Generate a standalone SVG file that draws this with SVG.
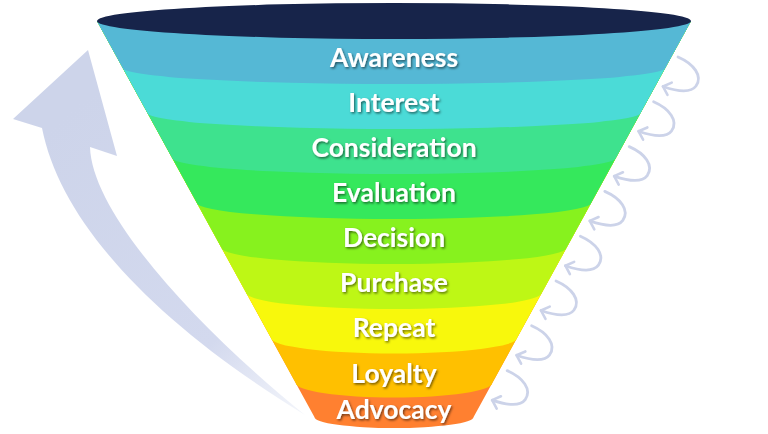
<svg xmlns="http://www.w3.org/2000/svg" width="768" height="434" viewBox="0 0 768 434">
  <defs>
    <linearGradient id="bigArrowGrad" gradientUnits="userSpaceOnUse" x1="60" y1="120" x2="305" y2="415">
      <stop offset="0" stop-color="#CDD4EA"/>
      <stop offset="0.7" stop-color="#D3D9EE"/>
      <stop offset="1" stop-color="#F4F6FB"/>
    </linearGradient>
    <marker id="ah" markerUnits="userSpaceOnUse" markerWidth="14" markerHeight="16" refX="7" refY="7" orient="auto" overflow="visible">
      <path d="M0,0.5 L7,7 L0,13.5" fill="none" stroke="#CCD3E9" stroke-width="2.6" stroke-linecap="round" stroke-linejoin="round"/>
    </marker>
    <filter id="shadow" x="-10%" y="-30%" width="120%" height="160%">
      <feDropShadow dx="1.2" dy="1.5" stdDeviation="0.9" flood-color="#000000" flood-opacity="0.55"/>
    </filter>
  </defs>
  <style>
    .lbl { font-family: Lato, "Open Sans", "Liberation Sans", sans-serif; font-weight: bold; font-size: 26.5px; fill: #FFFFFF; text-anchor: middle; filter: url(#shadow); }
    .loop { fill: none; stroke: #CCD3E9; stroke-width: 2.8; stroke-linecap: round; marker-end: url(#ah); }
  </style>
  <rect width="768" height="434" fill="#FFFFFF"/>

  <g id="connectors">
    <path id="return-arrow" d="M88,50 L13,119 L42,128 C60,220 150,320 305,415 C200,330 92,215 90,147 L117,156 Z" fill="url(#bigArrowGrad)"/>
    <g id="loops">
      <path class="loop" transform="translate(661,86)" d="M17,-29 C33,-22 42,-10 35,0 C29,8 15,5 2,0.5"/>
      <path class="loop" transform="translate(636.6,130.8)" d="M17,-29 C33,-22 42,-10 35,0 C29,8 15,5 2,0.5"/>
      <path class="loop" transform="translate(612.2,175.6)" d="M17,-29 C33,-22 42,-10 35,0 C29,8 15,5 2,0.5"/>
      <path class="loop" transform="translate(587.8,220.4)" d="M17,-29 C33,-22 42,-10 35,0 C29,8 15,5 2,0.5"/>
      <path class="loop" transform="translate(563.4,265.2)" d="M17,-29 C33,-22 42,-10 35,0 C29,8 15,5 2,0.5"/>
      <path class="loop" transform="translate(539,310)" d="M17,-29 C33,-22 42,-10 35,0 C29,8 15,5 2,0.5"/>
      <path class="loop" transform="translate(514.6,354.8)" d="M17,-29 C33,-22 42,-10 35,0 C29,8 15,5 2,0.5"/>
      <path class="loop" transform="translate(490.2,399.6)" d="M17,-29 C33,-22 42,-10 35,0 C29,8 15,5 2,0.5"/>
    </g>
  </g>

  <g id="advocacy">
    <path d="M97,21 L314.4,417 A79.6 11 0 0 0 473.6,417 L691,21 Z" fill="#FF8030"/>
    <text class="lbl" x="394" y="419">Advocacy</text>
  </g>
  <g id="loyalty">
    <path d="M97,21 L295.7,383 A98.3 14.5 0 0 0 492.3,383 L691,21 Z" fill="#FFC000"/>
    <text class="lbl" x="394" y="382.5">Loyalty</text>
  </g>
  <g id="repeat">
    <path d="M97,21 L271,338 A123 15.5 0 0 0 517,338 L691,21 Z" fill="#F8F80C"/>
    <text class="lbl" x="394" y="337">Repeat</text>
  </g>
  <g id="purchase">
    <path d="M97,21 L246.3,293 A147.7 16 0 0 0 541.7,293 L691,21 Z" fill="#BEF715"/>
    <text class="lbl" x="394" y="292">Purchase</text>
  </g>
  <g id="decision">
    <path d="M97,21 L221.6,248 A172.4 16 0 0 0 566.4,248 L691,21 Z" fill="#87F21E"/>
    <text class="lbl" x="394" y="247">Decision</text>
  </g>
  <g id="evaluation">
    <path d="M97,21 L196.9,203 A197.1 16 0 0 0 591.1,203 L691,21 Z" fill="#35E85C"/>
    <text class="lbl" x="394" y="202">Evaluation</text>
  </g>
  <g id="consideration">
    <path d="M97,21 L172.2,158 A221.8 16 0 0 0 615.8,158 L691,21 Z" fill="#3EE28E"/>
    <text class="lbl" x="394" y="157">Consideration</text>
  </g>
  <g id="interest">
    <path d="M97,21 L147.5,113 A246.5 16 0 0 0 640.5,113 L691,21 Z" fill="#4BDBD7"/>
    <text class="lbl" x="394" y="112">Interest</text>
  </g>
  <g id="awareness">
    <path d="M97,21 L122.8,68 A271.2 16 0 0 0 665.2,68 L691,21 Z" fill="#55B8D5"/>
    <text class="lbl" x="394" y="67">Awareness</text>
  </g>
  <g id="funnel-top">
    <ellipse cx="394" cy="21" rx="297" ry="18" fill="#17244A"/>
  </g>
</svg>
